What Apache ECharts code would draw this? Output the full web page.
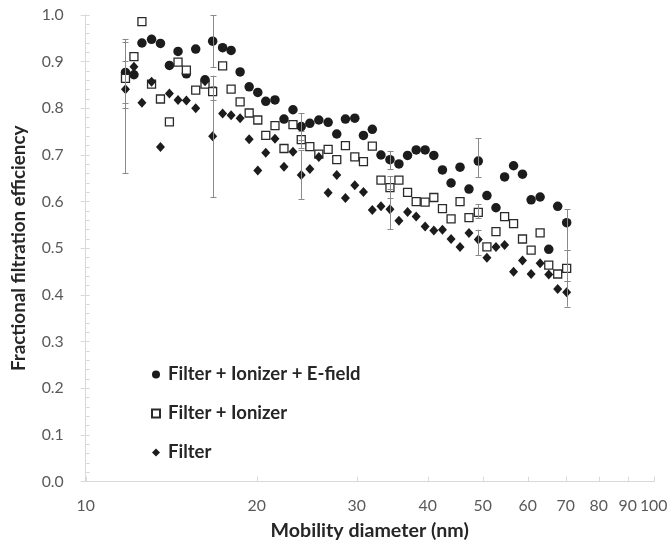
<!DOCTYPE html>
<html><head><meta charset="utf-8">
<script src="https://cdn.jsdelivr.net/npm/echarts@6/dist/echarts.min.js"></script>
<style>html,body{margin:0;padding:0;background:#fff}#c{width:668px;height:549px}</style>
</head><body><div id="c"></div>
<script>
const diameters = [11.75, 12.16, 12.56, 13.06, 13.54, 14.04, 14.54, 15.04, 15.62, 16.22, 16.73, 17.42, 18.03, 18.70, 19.40, 20.09, 20.75, 21.54, 22.34, 23.17, 23.96, 24.81, 25.73, 26.72, 27.67, 28.66, 29.77, 30.83, 31.96, 33.10, 34.33, 35.60, 36.87, 38.18, 39.59, 41.01, 42.47, 43.98, 45.61, 47.29, 49.11, 50.86, 52.76, 54.64, 56.66, 58.75, 60.84, 63.10, 65.35, 67.76, 70.27];
const effEfield = [0.877, 0.872, 0.940, 0.948, 0.939, 0.892, 0.922, 0.874, 0.927, 0.861, 0.944, 0.930, 0.924, 0.878, 0.846, 0.834, 0.815, 0.818, 0.777, 0.797, 0.761, 0.768, 0.775, 0.770, 0.745, 0.777, 0.779, 0.742, 0.755, 0.700, 0.690, 0.681, 0.699, 0.711, 0.711, 0.699, 0.668, 0.640, 0.674, 0.627, 0.687, 0.613, 0.587, 0.653, 0.677, 0.659, 0.604, 0.610, 0.498, 0.590, 0.555];
const effIonizer = [0.864, 0.911, 0.986, 0.852, 0.820, 0.771, 0.899, 0.882, 0.839, 0.852, 0.836, 0.891, 0.841, 0.814, 0.790, 0.775, 0.742, 0.763, 0.714, 0.765, 0.733, 0.718, 0.702, 0.712, 0.690, 0.720, 0.696, 0.686, 0.719, 0.646, 0.630, 0.646, 0.620, 0.600, 0.599, 0.609, 0.585, 0.563, 0.600, 0.566, 0.577, 0.503, 0.536, 0.568, 0.553, 0.520, 0.496, 0.533, 0.464, 0.445, 0.457];
const effFilter = [0.841, 0.889, 0.812, 0.857, 0.717, 0.832, 0.818, 0.817, 0.800, 0.858, 0.740, 0.789, 0.785, 0.779, 0.734, 0.667, 0.705, 0.735, 0.675, 0.707, 0.657, 0.670, 0.696, 0.619, 0.657, 0.608, 0.635, 0.621, 0.582, 0.590, 0.584, 0.559, 0.578, 0.568, 0.547, 0.538, 0.540, 0.520, 0.503, 0.533, 0.519, 0.480, 0.503, 0.507, 0.450, 0.474, 0.445, 0.468, 0.444, 0.413, 0.406];

const errX = [11.75, 16.73, 23.96, 34.33, 49.11, 70.27];
const errEfieldLow = [0.800, 0.888, 0.732, 0.670, 0.652, 0.497];
const errEfieldHigh = [0.949, 1.000, 0.790, 0.709, 0.736, 0.584];
const errIonizerLow = [0.812, 0.818, 0.715, 0.607, 0.565, 0.429];
const errIonizerHigh = [0.902, 0.848, 0.751, 0.654, 0.595, 0.497];
const errFilterLow = [0.661, 0.610, 0.606, 0.541, 0.485, 0.375];
const errFilterHigh = [0.943, 0.870, 0.710, 0.627, 0.540, 0.429];

const xTickValues = [10, 20, 30, 40, 50, 60, 70, 80, 90, 100];
const xTickLabels = ['10', '20', '30', '40', '50', '60', '70', '80', '90', '100'];
const seriesNames = ['Filter + Ionizer + E-field', 'Filter + Ionizer', 'Filter'];
const xTitle = 'Mobility diameter (nm)';
const yTitle = 'Fractional filtration efficiency';

const FONT = 'Lato';
const LABEL_COLOR = '#595959';
const AXIS_COLOR = '#d9d9d9';
const TEXT_COLOR = '#262626';

// pick a font size so that the text spans the width seen in the reference
const measureCtx = document.createElement('canvas').getContext('2d');
function fitSize(text, weight, targetWidth) {
  measureCtx.font = weight + ' 100px ' + FONT;
  const w = measureCtx.measureText(text).width;
  return Math.round(100 * targetWidth / w * 10) / 10;
}
const xTitleSize = fitSize(xTitle, 'bold', 198);
const yTitleSize = fitSize(yTitle, 'bold', 246);
const legendSize = fitSize(seriesNames[0], 'bold', 192);
const tickSize = fitSize('100', 'normal', 27.5);

const zip = (xs, ys) => xs.map((x, i) => [x, ys[i]]);
const zip3 = (xs, a, b) => xs.map((x, i) => [x, a[i], b[i]]);

function errRender(params, api) {
  const x = api.value(0), lo = api.value(1), hi = api.value(2);
  const pLo = api.coord([x, lo]), pHi = api.coord([x, hi]);
  const px = Math.round(pLo[0]) + 0.5;
  const c = 3;
  const style = { stroke: '#8a8a8a', lineWidth: 1 };
  return { type: 'group', children: [
    { type: 'line', shape: { x1: px, y1: pLo[1], x2: px, y2: pHi[1] }, style },
    { type: 'line', shape: { x1: px - c, y1: Math.round(pLo[1]) + 0.5, x2: px + c, y2: Math.round(pLo[1]) + 0.5 }, style },
    { type: 'line', shape: { x1: px - c, y1: Math.round(pHi[1]) + 0.5, x2: px + c, y2: Math.round(pHi[1]) + 0.5 }, style }
  ]};
}

function tickRender(params, api) {
  const v = api.value(0);
  const idx = api.value(2);
  const p = api.coord([v, 0]);
  const px = Math.round(p[0]) + 0.5;
  return { type: 'group', children: [
    { type: 'line', shape: { x1: px, y1: p[1], x2: px, y2: p[1] - 5 }, style: { stroke: AXIS_COLOR, lineWidth: 1 } },
    { type: 'text', x: p[0], y: p[1] + 24, style: { text: xTickLabels[idx], fill: LABEL_COLOR, fontSize: tickSize, fontFamily: FONT, align: 'center', verticalAlign: 'middle' } }
  ]};
}

const markerColor = '#1c1c1c';
const option = {
  animation: false,
  backgroundColor: '#fff',
  grid: { left: 85.7, right: 14.3, top: 15, bottom: 67.3 },
  legend: {
    data: seriesNames,
    orient: 'vertical',
    left: 146,
    top: 359,
    itemWidth: 8,
    itemHeight: 8,
    itemGap: 18,
    textStyle: { fontFamily: FONT, fontWeight: 'bold', fontSize: legendSize, color: TEXT_COLOR, lineHeight: 21, padding: [0, 0, 0, 3] }
  },
  xAxis: {
    type: 'log', logBase: 10, min: 10, max: 100,
    axisLine: { show: true, lineStyle: { color: AXIS_COLOR, width: 1 } },
    axisTick: { show: false },
    axisLabel: { show: false },
    splitLine: { show: false },
    name: xTitle,
    nameLocation: 'middle',
    nameGap: 39,
    nameTextStyle: { fontFamily: FONT, fontWeight: 'bold', fontSize: xTitleSize, color: TEXT_COLOR }
  },
  yAxis: [{
    type: 'value', min: 0, max: 1, interval: 0.1,
    axisLine: { show: true, lineStyle: { color: AXIS_COLOR, width: 1 } },
    axisTick: { show: true, length: 5, lineStyle: { color: AXIS_COLOR } },
    axisLabel: { formatter: v => v.toFixed(1), color: LABEL_COLOR, fontSize: tickSize, fontFamily: FONT, margin: 22 },
    splitLine: { show: false },
    name: yTitle,
    nameLocation: 'middle',
    nameGap: 57,
    nameTextStyle: { fontFamily: FONT, fontWeight: 'bold', fontSize: yTitleSize, color: TEXT_COLOR }
  }, {
    type: 'value', min: 0, max: 1, interval: 0.02, position: 'left',
    axisLine: { show: false },
    axisTick: { show: true, inside: true, length: 4, lineStyle: { color: AXIS_COLOR } },
    axisLabel: { show: false },
    splitLine: { show: false }
  }],
  series: [
    { type: 'custom', name: 'ticks', renderItem: tickRender, data: xTickValues.map((v, i) => [v, 0, i]), encode: { x: 0, y: 1 }, clip: false, silent: true, z: 1 },
    { type: 'custom', name: 'errE', renderItem: errRender, data: zip3(errX, errEfieldLow, errEfieldHigh), encode: { x: 0, y: [1, 2] }, clip: false, z: 5 },
    { type: 'custom', name: 'errI', renderItem: errRender, data: zip3(errX, errIonizerLow, errIonizerHigh), encode: { x: 0, y: [1, 2] }, clip: false, z: 5 },
    { type: 'custom', name: 'errF', renderItem: errRender, data: zip3(errX, errFilterLow, errFilterHigh), encode: { x: 0, y: [1, 2] }, clip: false, z: 5 },
    { type: 'scatter', name: seriesNames[0], data: zip(diameters, effEfield), symbol: 'circle', symbolSize: 9.5, itemStyle: { color: markerColor, opacity: 1 }, z: 3 },
    { type: 'scatter', name: seriesNames[1], data: zip(diameters, effIonizer), symbol: 'rect', symbolSize: 8, itemStyle: { color: '#ffffff', borderColor: '#2a2a2a', borderWidth: 1.3, opacity: 1 }, z: 3 },
    { type: 'scatter', name: seriesNames[2], data: zip(diameters, effFilter), symbol: 'diamond', symbolSize: [9, 10], itemStyle: { color: markerColor, opacity: 1 }, z: 3 }
  ]
};
const chart = echarts.init(document.getElementById('c'), null, { renderer: 'canvas' });
chart.setOption(option);
</script>
</body></html>
